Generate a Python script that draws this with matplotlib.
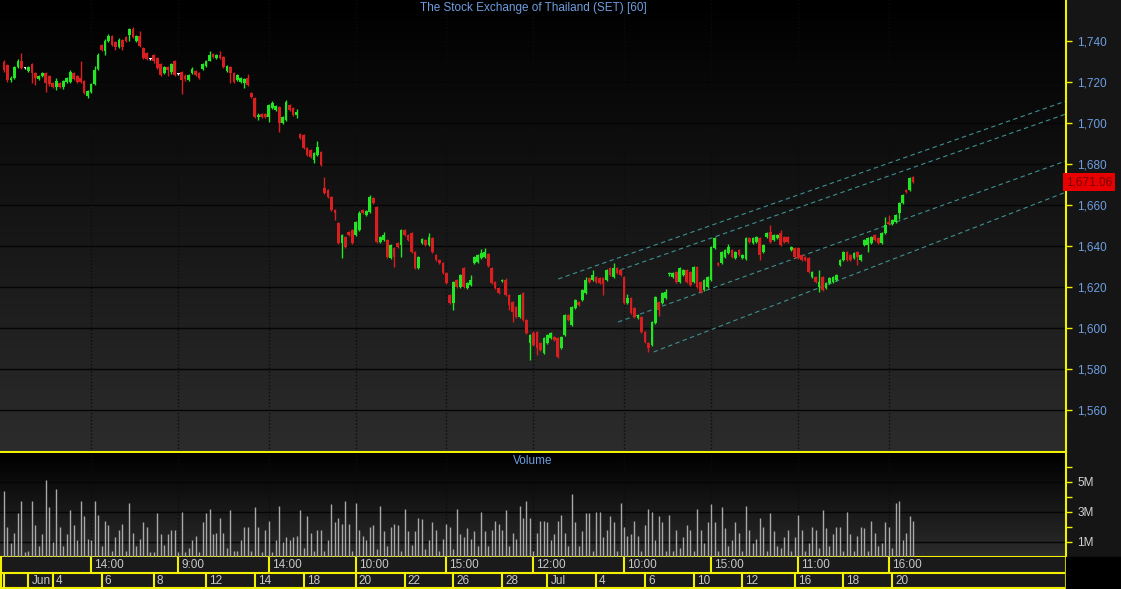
import numpy as np
import matplotlib.pyplot as plt
from matplotlib.colors import LinearSegmentedColormap
from matplotlib import transforms

plt.rcParams['font.family'] = ['Liberation Sans', 'DejaVu Sans']

# hourly candles, SET index, 31 May - 20 Jul
opens = [
    1729.8, 1728.5, 1721.0, 1722.0, 1727.5, 1730.0, 1727.0, 1725.5, 1729.0, 1724.5,
    1721.5, 1723.0, 1724.5, 1723.0, 1719.5, 1717.5, 1719.5, 1717.5, 1720.0, 1720.0,
    1724.5, 1723.0, 1722.0, 1720.5, 1713.0, 1715.0, 1719.0, 1726.5, 1738.0, 1735.0,
    1740.0, 1742.5, 1739.5, 1737.0, 1740.5, 1742.0, 1743.0, 1746.0, 1740.0, 1742.5,
    1736.5, 1734.0, 1731.0, 1733.0, 1731.5, 1729.0, 1724.5, 1727.5, 1725.0, 1730.0,
    1724.0, 1725.0, 1723.0, 1721.0, 1724.4, 1725.4, 1724.4, 1726.3, 1727.8, 1730.2,
    1733.7, 1731.7, 1733.2, 1732.2, 1725.4, 1727.3, 1724.4, 1721.0, 1720.0, 1719.5,
    1722.0, 1714.6, 1712.2, 1702.9, 1704.4, 1704.4, 1702.9, 1707.3, 1706.3, 1707.8,
    1700.0, 1701.5, 1708.8, 1707.3, 1703.9, 1694.6, 1694.1, 1687.8, 1686.8, 1682.0,
    1684.4, 1685.9, 1668.3, 1667.3, 1663.9, 1657.6, 1651.2, 1641.5, 1644.4, 1646.8,
    1647.8, 1645.4, 1647.8, 1657.6, 1655.1, 1656.6, 1663.4, 1659.0, 1642.0, 1642.9,
    1642.9, 1634.1, 1639.0, 1641.5, 1640.5, 1647.8, 1645.4, 1646.3, 1637.1, 1629.3,
    1641.5, 1642.9, 1640.5, 1643.9, 1635.6, 1633.2, 1631.7, 1626.8, 1616.1, 1612.2,
    1623.4, 1620.0, 1629.3, 1619.5, 1621.0, 1631.7, 1632.2, 1634.1, 1634.6, 1636.1,
    1629.3, 1622.4, 1619.5, 1623.0, 1623.4, 1616.1, 1612.7, 1610.2, 1605.4, 1617.1,
    1603.9, 1592.7, 1597.6, 1598.0, 1592.7, 1587.8, 1592.7, 1595.1, 1595.6, 1595.1,
    1590.2, 1596.6, 1606.3, 1601.5, 1609.8, 1612.7, 1613.7, 1617.1, 1624.4, 1623.4,
    1624.9, 1624.4, 1624.4, 1623.4, 1629.3, 1624.9, 1629.3, 1628.3, 1624.9, 1612.2,
    1614.6, 1609.8, 1604.9, 1605.4, 1598.0, 1592.7, 1591.7, 1602.4, 1612.7, 1612.2,
    1614.6, 1626.3, 1624.9, 1627.3, 1622.4, 1625.9, 1628.3, 1627.3, 1622.4, 1629.8,
    1622.4, 1618.5, 1620.0, 1623.4, 1639.0, 1631.7, 1631.7, 1634.6, 1636.6, 1638.0,
    1634.1, 1638.0, 1634.1, 1633.6, 1643.9, 1641.5, 1642.0, 1643.9, 1637.1, 1644.4,
    1646.8, 1642.9, 1643.9, 1646.3, 1644.4, 1644.4, 1638.0, 1639.0, 1639.0, 1635.6,
    1634.6, 1634.1, 1624.9, 1624.9, 1620.0, 1624.9, 1619.5, 1622.0, 1622.4, 1623.4,
    1630.7, 1633.2, 1637.1, 1635.6, 1634.1, 1637.1, 1633.2, 1640.5, 1640.5, 1641.5,
    1645.4, 1643.9, 1641.5, 1646.3, 1651.7, 1650.7, 1651.7, 1656.1, 1661.0, 1667.3,
    1667.3, 1673.7,
]
highs = [
    1730.5, 1729.0, 1723.0, 1728.0, 1731.0, 1734.0, 1727.5, 1728.0, 1729.5, 1725.0,
    1723.5, 1725.0, 1725.0, 1723.5, 1720.0, 1722.0, 1720.0, 1721.0, 1722.5, 1726.0,
    1725.0, 1723.5, 1730.0, 1721.0, 1716.0, 1719.5, 1728.0, 1734.0, 1738.5, 1741.0,
    1743.5, 1743.0, 1740.0, 1741.5, 1741.0, 1742.5, 1746.5, 1747.0, 1743.0, 1745.0,
    1737.0, 1734.5, 1731.5, 1733.5, 1732.0, 1729.5, 1728.0, 1728.0, 1729.5, 1730.5,
    1724.5, 1725.5, 1724.0, 1724.0, 1727.5, 1726.0, 1724.8, 1729.3, 1730.7, 1735.0,
    1734.2, 1733.7, 1735.1, 1732.7, 1728.3, 1727.8, 1724.9, 1723.9, 1722.5, 1722.0,
    1724.0, 1715.0, 1712.7, 1705.0, 1704.9, 1704.9, 1709.3, 1710.8, 1708.8, 1708.3,
    1703.4, 1711.2, 1709.3, 1707.8, 1707.0, 1695.1, 1694.6, 1688.3, 1687.3, 1686.0,
    1691.0, 1686.4, 1673.5, 1667.8, 1664.4, 1658.0, 1651.7, 1646.0, 1645.0, 1647.3,
    1648.3, 1652.2, 1657.0, 1658.0, 1657.6, 1665.0, 1663.9, 1659.5, 1645.0, 1646.8,
    1643.4, 1641.0, 1639.5, 1642.0, 1648.3, 1648.3, 1645.9, 1646.8, 1637.6, 1635.1,
    1644.0, 1643.4, 1646.3, 1644.4, 1636.1, 1633.7, 1632.2, 1627.3, 1616.6, 1623.0,
    1624.0, 1626.5, 1629.8, 1622.5, 1625.9, 1635.1, 1636.1, 1638.5, 1639.0, 1636.6,
    1629.8, 1623.0, 1620.0, 1624.0, 1624.4, 1616.6, 1613.2, 1610.7, 1616.6, 1617.6,
    1604.4, 1597.1, 1598.5, 1598.5, 1593.2, 1595.6, 1597.1, 1598.0, 1596.1, 1595.6,
    1596.1, 1606.8, 1606.8, 1610.7, 1614.2, 1613.2, 1619.0, 1625.0, 1625.0, 1628.5,
    1625.4, 1624.9, 1624.9, 1628.8, 1629.8, 1631.7, 1629.8, 1628.8, 1625.4, 1616.5,
    1615.1, 1610.2, 1606.8, 1605.9, 1598.5, 1593.2, 1603.4, 1615.6, 1613.2, 1617.6,
    1619.0, 1627.5, 1627.3, 1627.8, 1629.8, 1628.8, 1628.8, 1627.8, 1630.2, 1630.2,
    1622.9, 1623.9, 1625.4, 1640.0, 1644.4, 1632.2, 1637.6, 1638.5, 1641.0, 1638.5,
    1637.6, 1638.5, 1636.1, 1644.4, 1644.4, 1644.4, 1644.9, 1644.4, 1641.0, 1646.8,
    1650.2, 1645.9, 1645.9, 1648.0, 1644.9, 1644.9, 1640.0, 1639.5, 1639.5, 1636.1,
    1635.1, 1634.6, 1627.8, 1625.4, 1628.3, 1625.4, 1622.5, 1624.9, 1625.4, 1626.4,
    1633.7, 1637.6, 1637.6, 1636.1, 1637.1, 1637.6, 1636.1, 1643.4, 1644.4, 1644.9,
    1645.9, 1644.4, 1646.8, 1654.0, 1655.0, 1653.2, 1655.6, 1661.5, 1665.4, 1668.0,
    1673.7, 1674.2,
]
lows = [
    1725.0, 1720.0, 1720.0, 1721.5, 1727.0, 1726.5, 1726.5, 1725.0, 1719.5, 1718.5,
    1721.0, 1722.5, 1715.0, 1718.0, 1717.0, 1716.0, 1717.0, 1716.5, 1719.5, 1719.5,
    1721.0, 1719.5, 1719.5, 1714.0, 1712.0, 1714.5, 1718.5, 1726.0, 1735.0, 1733.0,
    1739.5, 1737.5, 1735.5, 1736.5, 1735.5, 1739.5, 1740.0, 1741.5, 1739.5, 1737.0,
    1731.0, 1730.5, 1730.5, 1729.5, 1726.5, 1723.0, 1724.0, 1723.0, 1724.0, 1723.0,
    1723.5, 1714.0, 1720.5, 1720.5, 1724.0, 1723.0, 1721.5, 1726.0, 1727.3, 1730.0,
    1731.7, 1731.2, 1731.2, 1726.8, 1724.9, 1719.4, 1719.5, 1720.5, 1719.5, 1717.0,
    1718.0, 1712.2, 1702.4, 1701.5, 1702.4, 1702.4, 1700.5, 1707.0, 1705.8, 1695.6,
    1699.5, 1701.0, 1705.8, 1703.4, 1702.4, 1692.2, 1687.3, 1683.9, 1683.0, 1680.5,
    1684.0, 1679.0, 1665.4, 1663.4, 1657.1, 1652.7, 1641.0, 1634.1, 1639.0, 1645.0,
    1641.0, 1645.0, 1647.3, 1655.6, 1654.6, 1656.1, 1660.5, 1641.5, 1641.5, 1642.5,
    1634.1, 1633.6, 1629.8, 1639.0, 1634.6, 1645.0, 1642.5, 1636.6, 1628.8, 1628.8,
    1641.0, 1640.0, 1640.0, 1636.6, 1632.7, 1631.2, 1626.3, 1621.5, 1611.7, 1608.8,
    1619.5, 1619.5, 1619.5, 1619.0, 1620.5, 1631.2, 1631.7, 1633.6, 1634.1, 1629.8,
    1621.5, 1619.0, 1616.6, 1622.5, 1615.6, 1609.0, 1603.0, 1604.9, 1604.9, 1603.4,
    1597.1, 1584.4, 1591.2, 1586.8, 1588.8, 1587.3, 1592.2, 1594.6, 1593.7, 1585.4,
    1589.8, 1596.1, 1603.4, 1601.0, 1609.3, 1610.7, 1613.2, 1616.6, 1622.0, 1623.0,
    1622.0, 1621.5, 1616.1, 1623.0, 1625.4, 1624.4, 1626.3, 1625.4, 1611.7, 1611.7,
    1606.8, 1604.9, 1604.4, 1597.6, 1592.7, 1588.3, 1591.2, 1602.0, 1606.0, 1611.7,
    1614.1, 1625.4, 1624.4, 1622.0, 1622.0, 1625.4, 1622.0, 1620.5, 1622.0, 1619.5,
    1617.1, 1618.0, 1619.5, 1623.0, 1638.5, 1630.2, 1631.2, 1634.1, 1636.1, 1634.1,
    1633.6, 1635.1, 1633.6, 1633.2, 1641.5, 1641.0, 1641.5, 1633.0, 1636.6, 1643.9,
    1641.5, 1642.5, 1643.4, 1640.0, 1641.5, 1641.5, 1637.6, 1634.1, 1633.6, 1632.7,
    1632.7, 1626.8, 1624.4, 1622.0, 1617.6, 1618.0, 1619.0, 1621.5, 1622.0, 1623.0,
    1630.2, 1632.7, 1632.7, 1632.7, 1633.6, 1630.7, 1632.7, 1640.0, 1637.1, 1641.0,
    1642.5, 1641.0, 1641.0, 1646.0, 1650.2, 1650.2, 1651.2, 1653.0, 1660.5, 1665.8,
    1666.8, 1670.5,
]
closes = [
    1726.0, 1721.0, 1722.0, 1727.5, 1730.0, 1727.0, 1727.0, 1727.5, 1724.5, 1722.0,
    1723.0, 1724.5, 1719.5, 1719.0, 1717.5, 1720.5, 1717.5, 1720.5, 1722.0, 1725.0,
    1721.5, 1720.0, 1720.0, 1714.5, 1715.5, 1719.0, 1726.0, 1733.0, 1735.5, 1740.0,
    1742.5, 1738.0, 1737.0, 1740.5, 1737.0, 1740.0, 1746.0, 1742.0, 1742.5, 1737.5,
    1731.5, 1731.0, 1731.0, 1730.0, 1727.0, 1723.5, 1727.5, 1726.0, 1729.0, 1723.5,
    1724.0, 1721.0, 1721.5, 1723.4, 1726.3, 1723.4, 1722.0, 1728.8, 1730.2, 1733.2,
    1732.2, 1733.2, 1731.7, 1727.3, 1727.8, 1724.4, 1720.0, 1723.4, 1722.0, 1721.5,
    1718.5, 1712.7, 1702.9, 1703.9, 1702.9, 1702.9, 1708.8, 1709.8, 1708.3, 1700.0,
    1702.9, 1710.2, 1706.3, 1703.9, 1705.4, 1692.7, 1687.8, 1684.4, 1683.4, 1685.4,
    1688.3, 1679.5, 1665.9, 1663.9, 1657.6, 1656.1, 1641.5, 1645.4, 1639.5, 1645.4,
    1641.5, 1651.7, 1656.1, 1656.1, 1657.1, 1663.9, 1661.0, 1642.0, 1644.4, 1645.4,
    1634.6, 1640.5, 1634.6, 1639.5, 1647.8, 1645.4, 1642.9, 1637.1, 1629.3, 1634.6,
    1643.4, 1640.5, 1644.4, 1637.1, 1633.2, 1631.7, 1626.8, 1622.0, 1612.2, 1622.4,
    1620.0, 1625.9, 1620.0, 1622.0, 1623.4, 1634.6, 1635.6, 1636.6, 1637.1, 1630.2,
    1622.0, 1619.5, 1617.1, 1623.6, 1616.1, 1611.2, 1607.8, 1605.4, 1616.1, 1603.9,
    1597.6, 1596.6, 1591.7, 1590.2, 1589.3, 1595.1, 1596.6, 1597.6, 1594.1, 1585.9,
    1595.6, 1606.3, 1603.9, 1610.2, 1613.7, 1611.2, 1618.5, 1623.4, 1622.4, 1625.9,
    1622.4, 1622.0, 1621.5, 1628.3, 1625.9, 1629.3, 1626.8, 1625.9, 1612.2, 1614.6,
    1607.3, 1605.4, 1606.3, 1598.0, 1593.2, 1590.2, 1602.9, 1615.1, 1608.8, 1617.1,
    1617.6, 1626.8, 1626.8, 1622.4, 1629.3, 1628.3, 1622.4, 1621.0, 1629.8, 1620.0,
    1617.6, 1623.4, 1624.9, 1639.5, 1643.9, 1630.7, 1637.1, 1638.0, 1639.5, 1634.6,
    1637.1, 1635.6, 1635.6, 1643.9, 1642.0, 1643.9, 1644.4, 1635.6, 1640.5, 1646.3,
    1642.0, 1645.4, 1645.4, 1640.5, 1642.0, 1642.0, 1639.5, 1634.6, 1634.1, 1633.2,
    1633.2, 1627.3, 1627.3, 1622.4, 1622.4, 1618.5, 1622.0, 1624.4, 1624.9, 1625.9,
    1633.2, 1637.1, 1633.2, 1633.2, 1636.6, 1634.6, 1635.6, 1642.9, 1643.9, 1644.4,
    1642.9, 1641.5, 1646.3, 1650.2, 1650.7, 1652.7, 1655.1, 1661.0, 1664.9, 1666.3,
    1673.2, 1671.06,
]
# volume in millions
volume = [
    4.4, 2.0, 0.9, 1.6, 2.9, 3.7, 0.3, 0.4, 3.7, 2.1,
    0.7, 1.5, 5.1, 3.3, 1.0, 4.5, 2.0, 0.7, 1.5, 3.1,
    2.1, 1.1, 3.7, 2.7, 1.2, 1.1, 3.7, 2.8, 0.7, 2.4,
    2.1, 0.4, 1.3, 1.8, 2.2, 0.4, 3.6, 1.6, 0.7, 1.2,
    2.3, 2.0, 0.3, 0.3, 2.9, 1.5, 0.8, 1.5, 1.8, 1.8,
    0.3, 3.0, 0.3, 0.6, 1.1, 1.4, 0.3, 2.3, 2.9, 3.2,
    1.5, 1.6, 2.6, 1.6, 0.6, 3.1, 0.4, 0.4, 1.1, 2.0,
    2.0, 0.4, 3.3, 2.0, 0.3, 1.8, 2.4, 0.3, 1.1, 3.4, 1.0,
    1.3, 1.1, 1.3, 1.4, 3.1, 0.6, 2.7, 1.6, 0.4, 1.8,
    1.8, 0.4, 1.1, 3.5, 2.3, 2.6, 2.2, 3.7, 2.2, 0.4,
    3.6, 1.8, 1.4, 1.1, 2.0, 2.1, 0.5, 3.4, 1.7, 0.7,
    2.0, 2.2, 2.1, 0.4, 3.2, 1.7, 0.8, 1.7, 2.6, 2.5, 0.5,
    1.1, 2.3, 1.8, 0.4, 1.2, 2.2, 2.0, 0.5, 3.2, 1.5,
    1.3, 1.9, 1.2, 1.7, 0.7, 3.0, 1.7, 0.7, 1.8, 2.4,
    2.2, 1.8, 3.1, 0.7, 1.6, 1.2, 3.4, 2.6, 3.7, 2.6,
    0.4, 1.6, 2.4, 2.4, 2.3, 1.1, 1.5, 2.4, 2.8, 1.6,
    0.7, 4.2, 2.3, 0.7, 1.7, 2.9, 2.9, 0.4, 3.0, 3.0,
    1.3, 1.8, 2.7, 2.3, 0.4, 3.6, 2.0, 1.4, 1.5, 2.4, 1.4,
    0.4, 2.1, 3.2, 3.0, 1.1, 2.7, 2.3, 0.4, 2.8, 0.4,
    1.8, 0.6, 1.3, 2.1, 1.8, 0.4, 3.2, 1.8, 0.9, 2.3,
    3.5, 2.3, 0.4, 3.3, 1.9, 0.7, 1.1, 2.3, 1.6, 0.4,
    3.4, 1.8, 0.9, 1.2, 2.6, 2.0, 0.4, 2.9, 1.7, 0.7, 0.6,
    1.3, 1.8, 0.4, 1.3, 2.8, 1.8, 0.4, 0.9, 2.0, 1.8,
    0.6, 3.1, 1.9, 0.7, 1.5, 2.0, 2.0, 0.4, 3.0, 1.5,
    0.4, 1.4, 2.0, 1.9, 0.4, 2.4, 1.6, 0.7, 0.9, 2.3,
    2.0, 0.6, 3.6, 3.7, 1.1, 1.6, 2.7, 2.4,
]

# bottom axis: bar index where each label starts
time_idx = [25, 50, 76, 101, 127, 152, 178, 203, 228, 254]
time_labels = ['14:00', '9:00', '14:00', '10:00', '15:00', '12:00', '10:00', '15:00', '11:00', '16:00']
date_idx = [0, 7, 14, 28, 43, 58, 72, 86, 101, 115, 129, 143, 156, 170, 184, 198, 212, 227, 241, 255]
date_labels = ['', 'Jun', '4', '6', '8', '12', '14', '18', '20', '22', '26', '28', 'Jul',
               '4', '6', '10', '12', '16', '18', '20']

price_ticks = [1560, 1580, 1600, 1620, 1640, 1660, 1680, 1700, 1720, 1740]
vol_ticks = [1, 3, 5]

# channel lines drawn on the chart (bar index, price)
chan_x0 = [159.1, 176.9, 176.3, 186.5]
chan_y0 = [1623.9, 1628.3, 1602.9, 1588.3]
chan_x1 = [304.9, 304.9, 304.9, 304.9]
chan_y1 = [1710.7, 1704.4, 1681.5, 1666.3]

assert len(opens) == len(highs) == len(lows) == len(closes) == len(volume)

GREEN = '#22e622'
RED = '#d81e1e'
YELLOW = '#f0f000'
BLUE = '#6e9ee0'
W, H = 1121, 589


def box(x0, y0, x1, y1):
    return [x0 / W, 1 - y1 / H, (x1 - x0) / W, (y1 - y0) / H]


fig = plt.figure(figsize=(W / 100, H / 100), dpi=100)
fig.patch.set_facecolor('#151515')
ax = fig.add_axes(box(0, 0, 1066, 452))
axv = fig.add_axes(box(0, 453, 1066, 557), sharex=ax)
axd = fig.add_axes(box(0, 557, 1066, 589), sharex=ax)
fig.patches.append(plt.Rectangle((1066 / W, 0), 55 / W, 32 / H, transform=fig.transFigure,
                                 color='#000000', zorder=0))

n = len(closes)
x = np.arange(n)
o = np.array(opens)
c = np.array(closes)
cols = np.where(c > o, GREEN, np.where(c < o, RED, '#f4f4f4'))
xlim = (-1.15, 304.9)
ylim = (1539.5, 1760)

dark = LinearSegmentedColormap.from_list('bg', ['#000000', '#2c2c2c'])
grad = np.linspace(0, 1, 256).reshape(-1, 1)
ax.imshow(grad, extent=[xlim[0], xlim[1], ylim[0], ylim[1]], cmap=dark, aspect='auto', zorder=0)
axv.imshow(grad, extent=[xlim[0], xlim[1], 0, 6.93], cmap=dark, aspect='auto', zorder=0)

for p in price_ticks:
    ax.axhline(p, color='#050505', lw=1, zorder=1)
for t in time_idx:
    ax.axvline(t, color='#0c0c0c', lw=1, ls=(0, (1, 1.5)), zorder=1)
    axv.axvline(t, color='#0c0c0c', lw=1, ls=(0, (1, 1.5)), zorder=1)

for i in range(len(chan_x0)):
    ax.plot([chan_x0[i], chan_x1[i]], [chan_y0[i], chan_y1[i]], color='#3f8f8f', lw=0.8,
            ls=(0, (4, 3)), zorder=2)

ax.vlines(x, lows, highs, colors=cols, lw=1, zorder=3)
body = np.maximum(np.abs(c - o), 0.5)
ax.bar(x, body, bottom=np.minimum(o, c), width=0.78, color=cols, linewidth=0, zorder=4)

ax.set_xlim(*xlim)
ax.set_ylim(*ylim)
ax.yaxis.tick_right()
ax.set_yticks(price_ticks)
ax.set_yticklabels([f'{p:,}' for p in price_ticks])
ax.tick_params(axis='y', colors=YELLOW, labelcolor=BLUE, length=4, width=1, labelsize=8.5, pad=4)
ax.tick_params(axis='x', bottom=False, labelbottom=False)
for s in ['top', 'left']:
    ax.spines[s].set_visible(False)
ax.spines['right'].set_color(YELLOW)
ax.spines['right'].set_linewidth(1.5)
ax.spines['bottom'].set_color(YELLOW)
ax.spines['bottom'].set_linewidth(1.5)
ax.text(0.5, 0.982, 'The Stock Exchange of Thailand (SET) [60]', transform=ax.transAxes,
        ha='center', va='center', color=BLUE, fontsize=8.5)

ax.text(1.0, closes[-1], f'{closes[-1]:,.2f}', transform=ax.get_yaxis_transform(),
        ha='left', va='center', color='#7a0000', fontsize=8.5, clip_on=False, zorder=10,
        bbox=dict(boxstyle='square,pad=0.25', fc='#e80000', ec='none'))

# volume panel
axv.vlines(x, 0, volume, colors='#a8a8a8', lw=1, zorder=3)
axv.set_ylim(0, 6.93)
for v in vol_ticks:
    axv.axhline(v, color='#050505', lw=1, zorder=1)
axv.yaxis.tick_right()
axv.set_yticks(vol_ticks)
axv.set_yticklabels([f'{v}M' for v in vol_ticks])
axv.set_yticks([2, 4, 6], minor=True)
axv.tick_params(axis='y', which='both', colors=YELLOW, labelcolor='#d0d0d0', length=4,
                width=1, labelsize=8.5, pad=4)
axv.tick_params(axis='x', bottom=False, labelbottom=False)
for s in ['top', 'left']:
    axv.spines[s].set_visible(False)
for s in ['right', 'bottom']:
    axv.spines[s].set_color(YELLOW)
    axv.spines[s].set_linewidth(1.5)
axv.text(0.5, 0.92, 'Volume', transform=axv.transAxes, ha='center', va='center',
         color=BLUE, fontsize=8.5)

# two-row date axis
axd.set_facecolor('#1a1a1a')
axd.set_ylim(0, 2)
axd.axhline(1, color=YELLOW, lw=1.5)
axd.axhline(0.05, color=YELLOW, lw=1.5)
axd.vlines(time_idx, 1, 2, colors=YELLOW, lw=1.5)
axd.vlines(date_idx, 0, 1, colors=YELLOW, lw=1.5)
axd.axvline(-0.9, color=YELLOW, lw=1.5)
shift = transforms.offset_copy(axd.transData, fig=fig, x=3, y=0, units='dots')
for t, lab in zip(time_idx, time_labels):
    axd.text(t, 1.5, lab, transform=shift, ha='left', va='center', color='#c8c8c8', fontsize=8.5)
for d, lab in zip(date_idx, date_labels):
    axd.text(d, 0.5, lab, transform=shift, ha='left', va='center', color='#c8c8c8', fontsize=8.5)
axd.set_xticks([])
axd.set_yticks([])
for s in ['top', 'left', 'bottom']:
    axd.spines[s].set_visible(False)
axd.spines['right'].set_color(YELLOW)
axd.spines['right'].set_linewidth(1.5)

fig.savefig('out.png', dpi=100, facecolor=fig.get_facecolor())
